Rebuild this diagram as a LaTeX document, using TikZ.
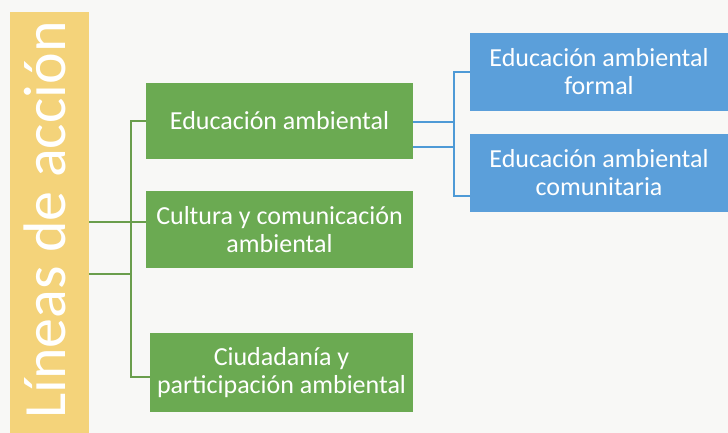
\documentclass[tikz,border=0pt]{standalone}
\usepackage{fontspec}
\setmainfont{Carlito}
\definecolor{ybar}{HTML}{F4D37A}
\definecolor{gbox}{HTML}{6BAA52}
\definecolor{bbox}{HTML}{5B9FDA}
\definecolor{gln}{HTML}{6A9E4C}
\definecolor{bln}{HTML}{4E9AD6}
\definecolor{bg}{HTML}{F8F8F6}
\tikzset{
  greenbox/.style={fill=gbox, text=white, align=center, inner sep=0pt,
    font=\fontsize{26}{28}\selectfont},
  bluebox/.style={fill=bbox, text=white, align=center, inner sep=0pt,
    font=\fontsize{26}{28}\selectfont},
  gline/.style={draw=gln, line width=1.5pt},
  bline/.style={draw=bln, line width=1.5pt}
}
\begin{document}
\begin{tikzpicture}[x=1pt,y=-1pt]
\fill[bg] (0,0) rectangle (728,433);
\useasboundingbox (0,0) rectangle (728,433);
% yellow bar
\node[fill=ybar, minimum width=79pt, minimum height=421pt, inner sep=0pt, anchor=north west] (bar) at (10,12) {};
\node[rotate=90, anchor=base west, inner sep=0pt, text=white, font=\fontsize{60}{60}\selectfont] (title) at (65,419) {Líneas de acción};
% green boxes
\node[greenbox, minimum width=267pt, minimum height=76pt] (g1) at (279.5,121) {Educación ambiental};
\node[greenbox, minimum width=267pt, minimum height=77pt] (g2) at (279.5,229.5) {Cultura y comunicación\\ambiental};
\node[greenbox, minimum width=263pt, minimum height=79pt] (g3) at (281.5,372.5) {Ciudadanía y\\participación ambiental};
% blue boxes
\node[bluebox, minimum width=258pt, minimum height=78pt] (b1) at (599,72) {Educación ambiental\\formal};
\node[bluebox, minimum width=258pt, minimum height=78pt] (b2) at (599,173) {Educación ambiental\\comunitaria};
% green connectors
\coordinate (tt) at (131,121);
\coordinate (tb) at (131,377);
\coordinate (j1) at (131,222);
\coordinate (j2) at (131,274);
\draw[gline] (g1.west) -- (tt) -- (tb) -- (g3.west |- tb);
\draw[gline] (bar.east |- j1) -- (g2.west |- j1);
\draw[gline] (bar.east |- j2) -- (j2);
% blue connectors
\coordinate (bt) at (454,72);
\coordinate (bb) at (454,196);
\coordinate (k1) at (454,122);
\coordinate (k2) at (454,147);
\draw[bline] (g1.east |- k1) -- (k1);
\draw[bline] (g1.east |- k2) -- (k2);
\draw[bline] (b1.west) -- (bt) -- (bb) -- (b2.west |- bb);
\end{tikzpicture}
\end{document}
